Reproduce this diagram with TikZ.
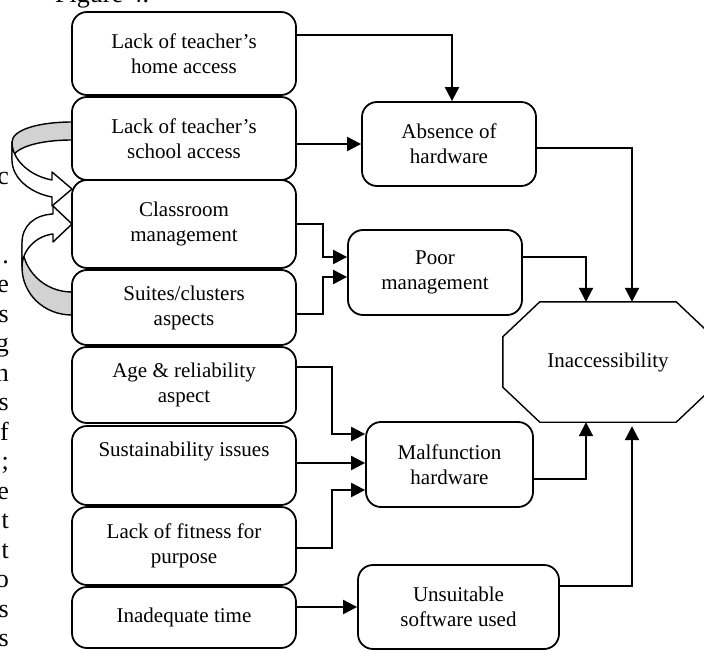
\documentclass[tikz,border=0pt]{standalone}
\usepackage{fontspec}
\setmainfont{Liberation Serif}
\usetikzlibrary{arrows.meta}

\begin{document}
\begin{tikzpicture}[x=1pt,y=-1pt,
  cause/.style={draw,line width=1.8pt,rounded corners=15pt,align=center,inner sep=0pt,
    font=\fontsize{21}{25}\selectfont},
  conn/.style={line width=2pt,-{Triangle[length=14pt,width=14pt]}},
  curl/.style={line width=1.4pt,line join=round},
  pagetext/.style={inner sep=0pt,font=\fontsize{26}{29.5}\selectfont}]
  \useasboundingbox (0,0) rectangle (704,650);
  \clip (0,0) rectangle (704,650);

  % cut off text of the page round the figure
  \node[pagetext,anchor=base west] (fig) at (55,3) {Figure 4.};
  \node[pagetext,anchor=base east] (t) at (9,184) {c};
  \foreach[count=\k from 0] \ch in {.,e,s,g,n,s,f,;,e,t,t,o,s,s}
    \node[pagetext,anchor=base east] (t\k) at (9,263+29.5*\k) {\ch};

  % curved block arrows on the left
  \draw[curl,fill=gray!35] (72,122) .. controls (38,122) and (12,130) .. (12,142)
    -- (12,160) .. controls (12,148) and (38,140) .. (72,140) -- cycle;
  \draw[curl,fill=white] (12,142) .. controls (12,160) and (30,176) .. (52,180)
    -- (52,172) -- (72,189) -- (52,206) -- (52,197)
    .. controls (30,193) and (12,178) .. (12,160) -- cycle;
  \draw[curl,fill=gray!35] (72,315) .. controls (44,315) and (22,294) .. (22,267)
    -- (22,243) .. controls (22,270) and (44,292) .. (72,292) -- cycle;
  \draw[curl,fill=white] (22,243) .. controls (22,226) and (34,215) .. (53,214)
    -- (53,206) -- (72,224) -- (53,242) -- (53,234)
    .. controls (36,236) and (22,250) .. (22,267) -- cycle;

  % causes
  \node[cause,minimum width=224pt,minimum height=83pt] (home) at (184,53.5) {Lack of teacher’s\\home access};
  \node[cause,minimum width=224pt,minimum height=83pt] (school) at (184,138.5) {Lack of teacher’s\\school access};
  \node[cause,minimum width=224pt,minimum height=88pt] (classroom) at (184,224) {Classroom\\management};
  \node[cause,minimum width=224pt,minimum height=75pt] (suites) at (184,307.5) {Suites/clusters\\aspects};
  \node[cause,minimum width=224pt,minimum height=76pt] (age) at (184,385) {Age \& reliability\\aspect};
  \node[cause,minimum width=224pt,minimum height=79pt] (sustain) at (184,465.5) {Sustainability issues\\\strut};
  \node[cause,minimum width=224pt,minimum height=78pt] (fitness) at (184,546) {Lack of fitness for\\purpose};
  \node[cause,minimum width=224pt,minimum height=61pt] (time) at (184,617.5) {Inadequate time};

  % effects
  \node[cause,minimum width=174pt,minimum height=84pt] (absence) at (449,144) {Absence of\\hardware};
  \node[cause,minimum width=174pt,minimum height=85pt] (poor) at (435,272.5) {Poor\\management};
  \node[cause,minimum width=167pt,minimum height=85pt] (malf) at (449.5,464.5) {Malfunction\\hardware};
  \node[cause,minimum width=201pt,minimum height=84pt] (unsuit) at (458.5,607) {Unsuitable\\software used};

  \node[minimum width=210pt,minimum height=120pt,inner sep=0pt,font=\fontsize{21}{25}\selectfont] (inacc) at (608,362) {Inaccessibility};
  \draw[line width=1.4pt] ([xshift=37pt]inacc.north west) -- ([xshift=-37pt]inacc.north east)
    -- ([yshift=-35pt]inacc.north east) -- ([yshift=35pt]inacc.south east)
    -- ([xshift=-37pt]inacc.south east) -- ([xshift=37pt]inacc.south west)
    -- ([yshift=35pt]inacc.south west) -- ([yshift=-35pt]inacc.north west) -- cycle;

  % connectors
  \draw[conn] ([yshift=18.5pt]home.east) -| ([xshift=3pt]absence.north);
  \draw[conn] (school.east |- absence.west) -- (absence.west);
  \draw[conn] (classroom.east) -- ++(26,0) |- ([yshift=15.5pt]poor.west);
  \draw[conn] ([yshift=-6.5pt]suites.east) -- ++(26,0) |- ([yshift=-4.5pt]poor.west);
  \draw[conn] ([yshift=-4pt]absence.east) -| ([xshift=24pt]inacc.north);
  \draw[conn] ([yshift=15.5pt]poor.east) -| ([xshift=-22pt]inacc.north);
  \draw[conn] ([yshift=18pt]age.east) -- ++(35,0) |- ([yshift=30.5pt]malf.west);
  \draw[conn] ([yshift=2.5pt]sustain.east) -- ([yshift=2.5pt]sustain.east -| malf.west);
  \draw[conn] ([yshift=-2pt]fitness.east) -- ++(35,0) |- ([yshift=-25.5pt]malf.west);
  \draw[conn] ([yshift=-14.5pt]malf.east) -| ([xshift=-22pt]inacc.south);
  \draw[conn,shorten >=4pt] ([yshift=21pt]unsuit.east) -| ([xshift=24pt]inacc.south);
  \draw[conn] (time.east |- unsuit.west) -- (unsuit.west);
\end{tikzpicture}
\end{document}
